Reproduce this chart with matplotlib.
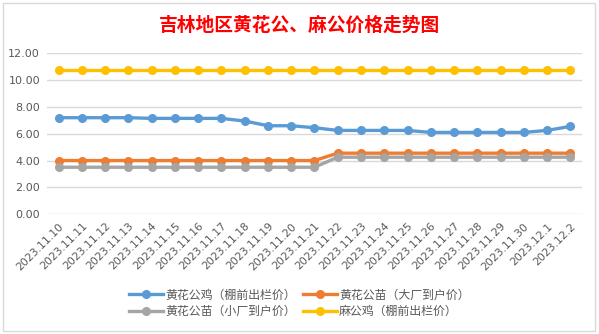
import numpy as np
import matplotlib
matplotlib.use('Agg')
import matplotlib.pyplot as plt
from matplotlib.patches import Rectangle

plt.rcParams['font.family'] = ['Noto Sans CJK SC', 'DejaVu Sans']

# data
dates = ['2023.11.10', '2023.11.11', '2023.11.12', '2023.11.13', '2023.11.14', '2023.11.15',
         '2023.11.16', '2023.11.17', '2023.11.18', '2023.11.19', '2023.11.20', '2023.11.21',
         '2023.11.22', '2023.11.23', '2023.11.24', '2023.11.25', '2023.11.26', '2023.11.27',
         '2023.11.28', '2023.11.29', '2023.11.30', '2023.12.1', '2023.12.2']
hh_ji = [7.2, 7.2, 7.2, 7.2, 7.15, 7.15, 7.15, 7.15, 6.95, 6.6, 6.6, 6.45,
         6.25, 6.25, 6.25, 6.25, 6.1, 6.1, 6.1, 6.1, 6.1, 6.25, 6.55]
hh_miao_big = [4.0, 4.0, 4.0, 4.0, 4.0, 4.0, 4.0, 4.0, 4.0, 4.0, 4.0, 4.0,
               4.55, 4.55, 4.55, 4.55, 4.55, 4.55, 4.55, 4.55, 4.55, 4.55, 4.55]
hh_miao_small = [3.5, 3.5, 3.5, 3.5, 3.5, 3.5, 3.5, 3.5, 3.5, 3.5, 3.5, 3.5,
                 4.25, 4.25, 4.25, 4.25, 4.25, 4.25, 4.25, 4.25, 4.25, 4.25, 4.25]
ma_ji = [10.8] * 23

names = ['黄花公鸡（棚前出栏价）', '黄花公苗（大厂到户价）', '黄花公苗（小厂到户价）', '麻公鸡（棚前出栏价）']
colors = ['#5B9BD5', '#ED7D31', '#A5A5A5', '#FFC000']

fig = plt.figure(figsize=(5.99, 3.34), dpi=100)
ax = fig.add_axes([0.0785, 0.359, 0.893, 0.481])

x = np.arange(len(dates))
lines = []
for vals, name, c in zip([hh_ji, hh_miao_big, hh_miao_small, ma_ji], names, colors):
    ln, = ax.plot(x, vals, color=c, lw=2.4, marker='o', ms=5.5, label=name, zorder=3)
    lines.append(ln)

ax.set_xlim(-0.5, len(dates) - 0.5)
ax.set_ylim(0, 12)
ax.set_yticks(np.arange(0, 13, 2))
ax.set_yticklabels(['%.2f' % v for v in np.arange(0, 13, 2)], fontsize=8, color='#595959',
                   family='DejaVu Sans')
ax.set_xticks(x)
ax.set_xticklabels(dates, rotation=45, ha='right', rotation_mode='anchor', fontsize=7.8,
                   color='#595959', family='DejaVu Sans')
ax.tick_params(length=0, pad=5)
ax.grid(axis='y', color='#D9D9D9', lw=1)
ax.set_axisbelow(True)
for s in ax.spines.values():
    s.set_visible(False)

fig.text(0.5, 0.925, '吉林地区黄花公、麻公价格走势图', ha='center', va='center',
         fontsize=13.5, color='#FF0000', fontweight='bold')

order = [0, 2, 1, 3]
leg = fig.legend([lines[i] for i in order], [names[i] for i in order], ncol=2,
                 loc='center', bbox_to_anchor=(0.5, 0.092), frameon=False, fontsize=8.6,
                 handlelength=2.8, columnspacing=0.6, handletextpad=0.2, labelspacing=0.3)
for t in leg.get_texts():
    t.set_color('#595959')

fig.patches.append(Rectangle((0.005, 0.01), 0.988, 0.98, transform=fig.transFigure,
                             fill=False, edgecolor='#D9D9D9', lw=1))

fig.savefig('out.png', dpi=100)
